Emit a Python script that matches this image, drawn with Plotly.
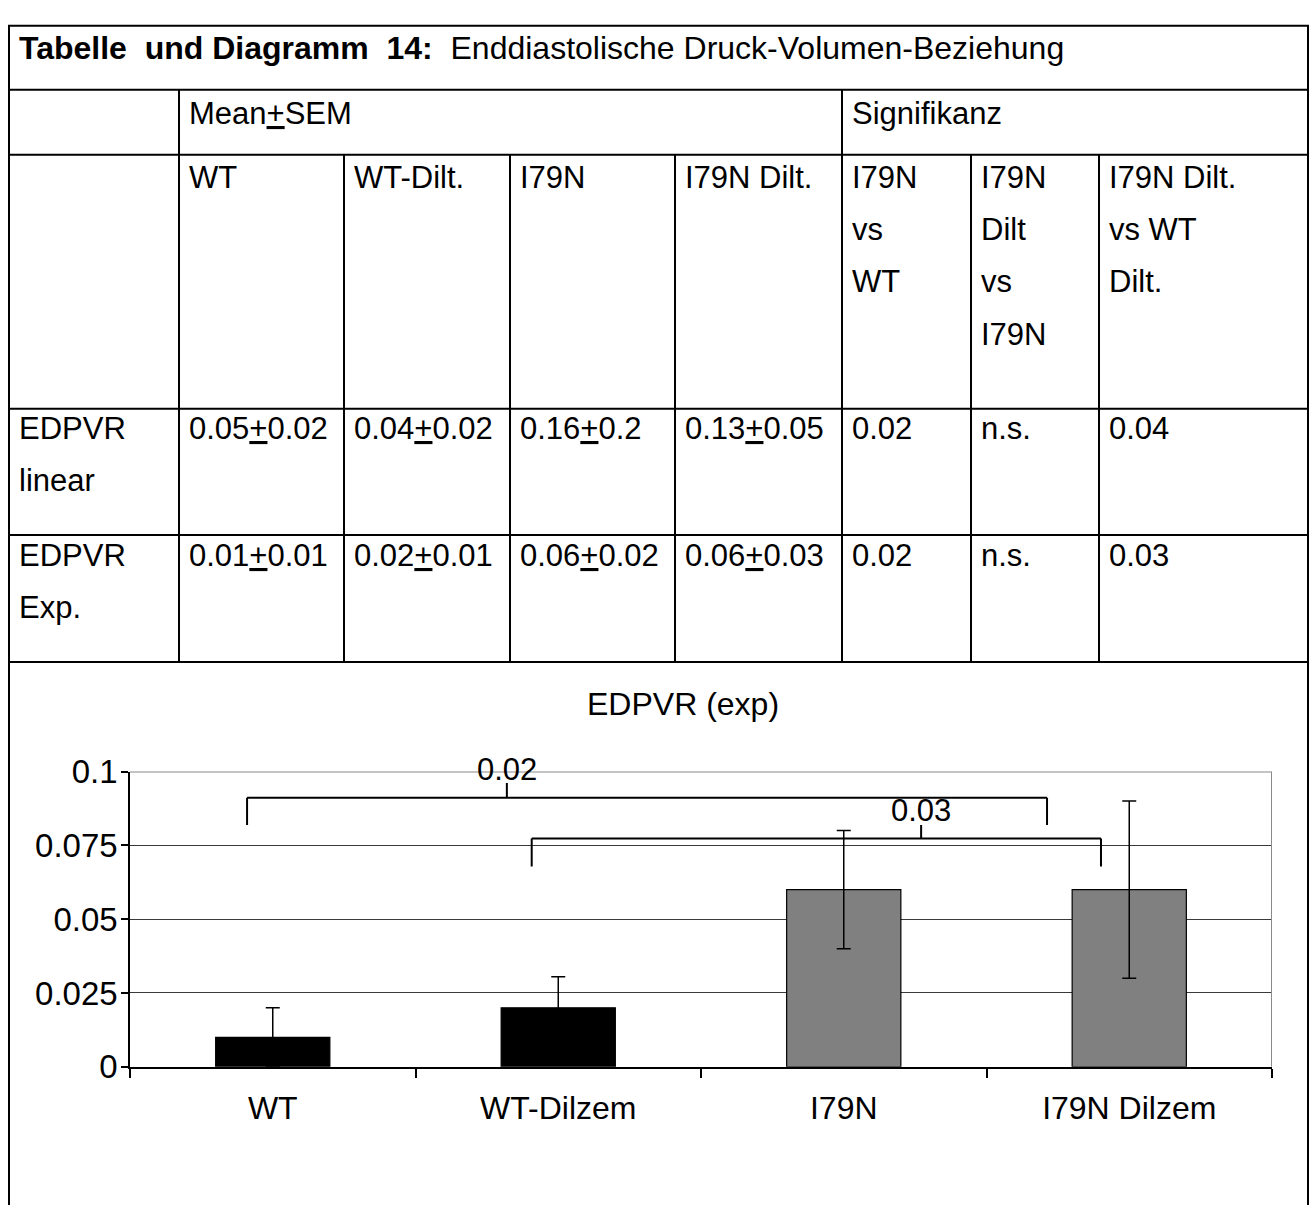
import plotly.graph_objects as go

# ---------------- data ----------------
title_bold = "Tabelle\u00a0 und Diagramm\u00a0 14:"
title_rest = "Enddiastolische Druck-Volumen-Beziehung"
group_headers = ["WT", "WT-Dilt.", "I79N", "I79N Dilt."]
sig_headers = [["I79N", "vs", "WT"], ["I79N", "Dilt", "vs", "I79N"], ["I79N Dilt.", "vs WT", "Dilt."]]
row_labels = [["EDPVR", "linear"], ["EDPVR", "Exp."]]
linear_mean = [0.05, 0.04, 0.16, 0.13]
linear_sem = [0.02, 0.02, 0.2, 0.05]
exp_mean = [0.01, 0.02, 0.06, 0.06]
exp_sem = [0.01, 0.01, 0.02, 0.03]
linear_sig = ["0.02", "n.s.", "0.04"]
exp_sig = ["0.02", "n.s.", "0.03"]

chart_title = "EDPVR (exp)"
categories = ["WT", "WT-Dilzem", "I79N", "I79N Dilzem"]
bar_values = [0.01, 0.02, 0.06, 0.06]
bar_errors = [0.01, 0.0105, 0.02, 0.03]
bar_colors = ["#000000", "#000000", "#808080", "#808080"]
y_ticks = [0, 0.025, 0.05, 0.075, 0.1]
y_ticktext = ["0", "0.025", "0.05", "0.075", "0.1"]
brackets = [
    dict(label="0.02", x0=-0.09, x1=2.712, y=0.0911, foot=0.0819, tx=0.82, ty=0.0961, ly=0.1007),
    dict(label="0.03", x0=0.907, x1=2.901, y=0.0773, foot=0.0678, tx=2.271, ty=0.0819, ly=0.0869),
]

# ---------------- layout geometry (pixels) ----------------
W, H = 1312, 1224
FONT = "Liberation Sans, Arial, sans-serif"
FS = 31
col_x = [9, 179, 344, 510, 675, 842, 971, 1099, 1308]
row_y = [8, 74, 141, 403, 533, 664]
Y_MAX = 0.1


def px(x):
    return x / W


def py(y):
    return 1 - y / H


shapes = []
annotations = []


def hline(y, x0, x1, w=2, color="black"):
    shapes.append(dict(type="line", xref="paper", yref="paper", x0=px(x0), x1=px(x1),
                       y0=py(y), y1=py(y), line=dict(color=color, width=w)))


def vline(x, y0, y1, w=2, color="black"):
    shapes.append(dict(type="line", xref="paper", yref="paper", x0=px(x), x1=px(x),
                       y0=py(y0), y1=py(y1), line=dict(color=color, width=w)))


def text(x, y, s, size=FS, anchor="left"):
    annotations.append(dict(xref="paper", yref="paper", x=px(x), y=py(y), text=s,
                            showarrow=False, xanchor=anchor, yanchor="middle",
                            font=dict(family=FONT, size=size, color="black")))


# outer border
hline(row_y[0], col_x[0] - 1, col_x[-1] + 1)
vline(col_x[0], row_y[0], H)
vline(col_x[-1], row_y[0], H)
# full-width row lines
for y in row_y[1:]:
    hline(y, col_x[0], col_x[-1])
# column lines
vline(col_x[1], row_y[1], row_y[-1])
vline(col_x[5], row_y[1], row_y[-1])
for c in [2, 3, 4, 6, 7]:
    vline(col_x[c], row_y[2], row_y[-1])

pad = 8
line_h = 54
# title
text(col_x[0] + pad, 31, "<b>" + title_bold + "</b>\u00a0 " + title_rest, size=32)
# group row
text(col_x[1] + pad, 98, "Mean<u>+</u>SEM")
text(col_x[5] + pad, 98, "Signifikanz")
# header row
for i, h in enumerate(group_headers):
    text(col_x[1 + i] + pad, 164, h)
for j, lines in enumerate(sig_headers):
    for k, s in enumerate(lines):
        text(col_x[5 + j] + pad, 164 + k * line_h, s)

# data rows
row_first = [423, 554]
means = [linear_mean, exp_mean]
sems = [linear_sem, exp_sem]
sigs = [linear_sig, exp_sig]
for r in range(2):
    y0 = row_first[r]
    for k, s in enumerate(row_labels[r]):
        text(col_x[0] + pad, y0 + k * line_h, s)
    for i in range(4):
        text(col_x[1 + i] + pad, y0, f"{means[r][i]:g}<u>+</u>{sems[r][i]:g}")
    for j in range(3):
        text(col_x[5 + j] + pad, y0, sigs[r][j])

# chart title
text(683, 707, chart_title, size=32, anchor="center")

# ---------------- chart ----------------
plot_x0, plot_x1 = 130, 1272
plot_top, plot_bottom = 777, 1081.5

fig = go.Figure()
fig.add_trace(go.Bar(
    x=categories, y=bar_values,
    marker=dict(color=bar_colors, line=dict(color="black", width=1.2)),
    error_y=dict(type="data", array=bar_errors, visible=True, color="black", thickness=1.5, width=7),
    showlegend=False, hoverinfo="skip",
))

# plot frame (top/right, grey)
shapes.append(dict(type="line", xref="x", yref="y", x0=3.5, x1=3.5, y0=0, y1=Y_MAX,
                   line=dict(color="#8a8a8a", width=2)))
shapes.append(dict(type="line", xref="x", yref="y", x0=-0.5, x1=3.5, y0=Y_MAX, y1=Y_MAX,
                   line=dict(color="#8a8a8a", width=2)))

# significance brackets
for b in brackets:
    bl = dict(color="black", width=2)
    shapes.append(dict(type="line", xref="x", yref="y", x0=b["x0"], x1=b["x1"], y0=b["y"], y1=b["y"], line=bl))
    shapes.append(dict(type="line", xref="x", yref="y", x0=b["x0"], x1=b["x0"], y0=b["y"], y1=b["foot"], line=bl))
    shapes.append(dict(type="line", xref="x", yref="y", x0=b["x1"], x1=b["x1"], y0=b["y"], y1=b["foot"], line=bl))
    shapes.append(dict(type="line", xref="x", yref="y", x0=b["tx"], x1=b["tx"], y0=b["y"], y1=b["ty"], line=bl))
    annotations.append(dict(xref="x", yref="y domain", x=b["tx"], y=b["ly"] / Y_MAX, text=b["label"],
                            showarrow=False, xanchor="center", yanchor="middle",
                            font=dict(family=FONT, size=FS, color="black")))

fig.update_layout(
    width=W, height=H,
    margin=dict(l=0, r=0, t=0, b=0),
    paper_bgcolor="white", plot_bgcolor="white",
    bargap=0.6,
    shapes=shapes,
    annotations=annotations,
    font=dict(family=FONT, size=FS, color="black"),
    xaxis=dict(
        domain=[px(plot_x0), px(plot_x1)],
        range=[-0.5, 3.5],
        type="category",
        showline=True, linecolor="black", linewidth=1.5,
        ticks="outside", tickson="boundaries", ticklen=9, tickcolor="black", tickwidth=1.5,
        ticklabelstandoff=12,
        showgrid=False,
        tickfont=dict(family=FONT, size=32, color="black"),
    ),
    yaxis=dict(
        domain=[py(plot_bottom), py(plot_top)],
        range=[0, Y_MAX],
        tickvals=y_ticks, ticktext=y_ticktext,
        showline=True, linecolor="black", linewidth=1.5,
        ticks="outside", ticklen=7, tickcolor="black", tickwidth=1.5,
        ticklabelstandoff=-3,
        showgrid=True, gridcolor="#3a3a3a", gridwidth=1.2,
        zeroline=False,
        tickfont=dict(family=FONT, size=33, color="black"),
    ),
)

fig.write_html("out.html", config={"displayModeBar": False},
               post_script="document.body.style.margin='0';")
